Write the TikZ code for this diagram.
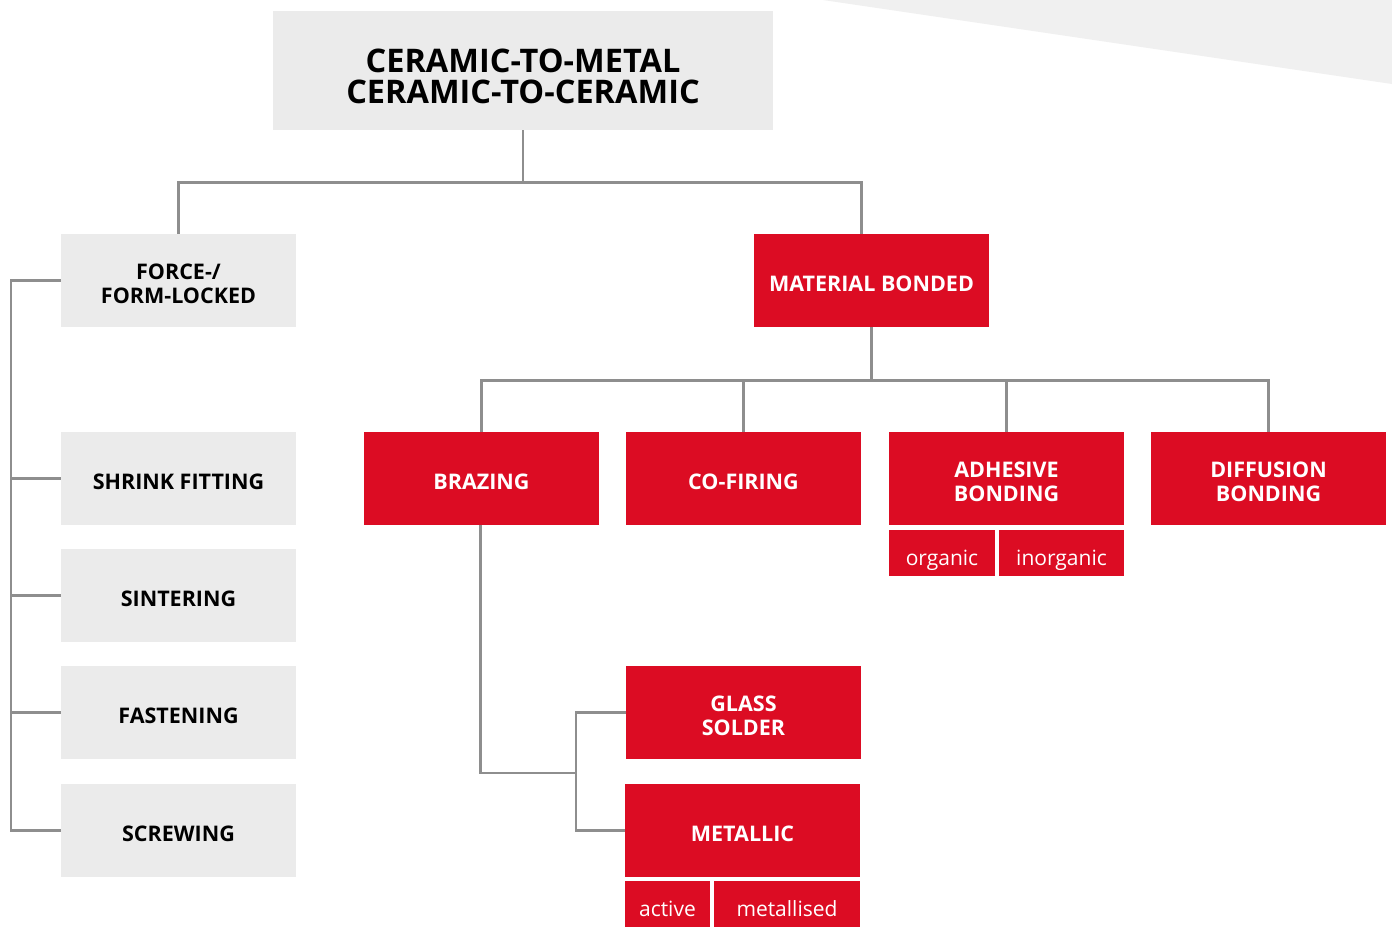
\documentclass[tikz,border=0pt]{standalone}
\usepackage{fontspec}
\setmainfont{Open Sans}
\usepackage{tikz}
\usepackage{xcolor}
\definecolor{boxgray}{HTML}{EBEBEB}
\definecolor{wedgegray}{HTML}{F0F0F0}
\definecolor{boxred}{HTML}{DC0C23}
\definecolor{linegray}{HTML}{8E8E8E}

\begin{document}
\begin{tikzpicture}[x=1pt,y=-1pt,
  box/.style={minimum width=235pt, minimum height=93pt, inner sep=0pt,
    align=center, font=\fontsize{21.5}{24}\selectfont\bfseries,
    execute at begin node={\rule{0pt}{22pt}}},
  twoline/.style={execute at begin node={\rule{0pt}{47pt}}},
  graybox/.style={box, fill=boxgray, text=black},
  redbox/.style={box, fill=boxred, text=white},
  subbox/.style={minimum height=46pt, inner sep=0pt, fill=boxred, text=white,
    text height=25pt, text depth=0pt, font=\fontsize{21}{24}\selectfont},
  link/.style={draw=linegray, line width=2.6pt}]

  \useasboundingbox (0,0) rectangle (1392,927);
  \fill[white] (0,0) rectangle (1392,927);
  \fill[wedgegray] (823,0) -- (1392,0) -- (1392,84) -- cycle;

  \node[graybox, minimum width=500pt, minimum height=119pt,
    font=\fontsize{32.5}{31}\selectfont\bfseries,
    execute at begin node={\rule{0pt}{66pt}}] (title) at (523,70.5)
    {CERAMIC-TO-METAL\\CERAMIC-TO-CERAMIC};

  \node[graybox, twoline] (force)  at (178.5,280.5) {FORCE-/\\FORM-LOCKED};
  \node[graybox] (shrink) at (178.5,478.5) {SHRINK FITTING};
  \node[graybox] (sinter) at (178.5,595.5) {SINTERING};
  \node[graybox] (fasten) at (178.5,712.5) {FASTENING};
  \node[graybox] (screw)  at (178.5,830.5) {SCREWING};

  \node[redbox] (material)  at (871.5,280.5)  {MATERIAL BONDED};
  \node[redbox] (brazing)   at (481.5,478.5)  {BRAZING};
  \node[redbox] (cofiring)  at (743.5,478.5)  {CO-FIRING};
  \node[redbox, twoline] (adhesive)  at (1006.5,478.5) {ADHESIVE\\BONDING};
  \node[redbox, twoline] (diffusion) at (1268.5,478.5) {DIFFUSION\\BONDING};

  \node[subbox, minimum width=106pt] (organic)   at (942,553)    {organic};
  \node[subbox, minimum width=125pt] (inorganic) at (1061.5,553) {inorganic};

  \node[redbox, twoline] (glass) at (743.5,712.5) {GLASS\\SOLDER};
  \node[redbox] (metallic) at (742.5,830.5) {METALLIC};

  \node[subbox, minimum width=85pt]  (active)     at (667.5,904) {active};
  \node[subbox, minimum width=146pt] (metallised) at (787,904)   {metallised};

  \draw[link] (title.south) -- ++(0,52) coordinate (t) -| (force.north);
  \draw[link] (t) -| ([xshift=-10pt]material.north);

  \draw[link] (force.west) -- ++(-50,0) |- (screw.west);
  \foreach \n in {shrink,sinter,fasten}
    \draw[link] (\n.west) -- ++(-50,0);

  \draw[link] (material.south) -- ++(0,53) coordinate (m);
  \foreach \n in {brazing,cofiring,adhesive,diffusion}
    \draw[link] (m) -| (\n.north);

  \coordinate (b) at (576,773);
  \draw[link] ([xshift=-1pt]brazing.south) |- (b);
  \draw[link] (glass.west) -| (b) |- (metallic.west);
\end{tikzpicture}
\end{document}
